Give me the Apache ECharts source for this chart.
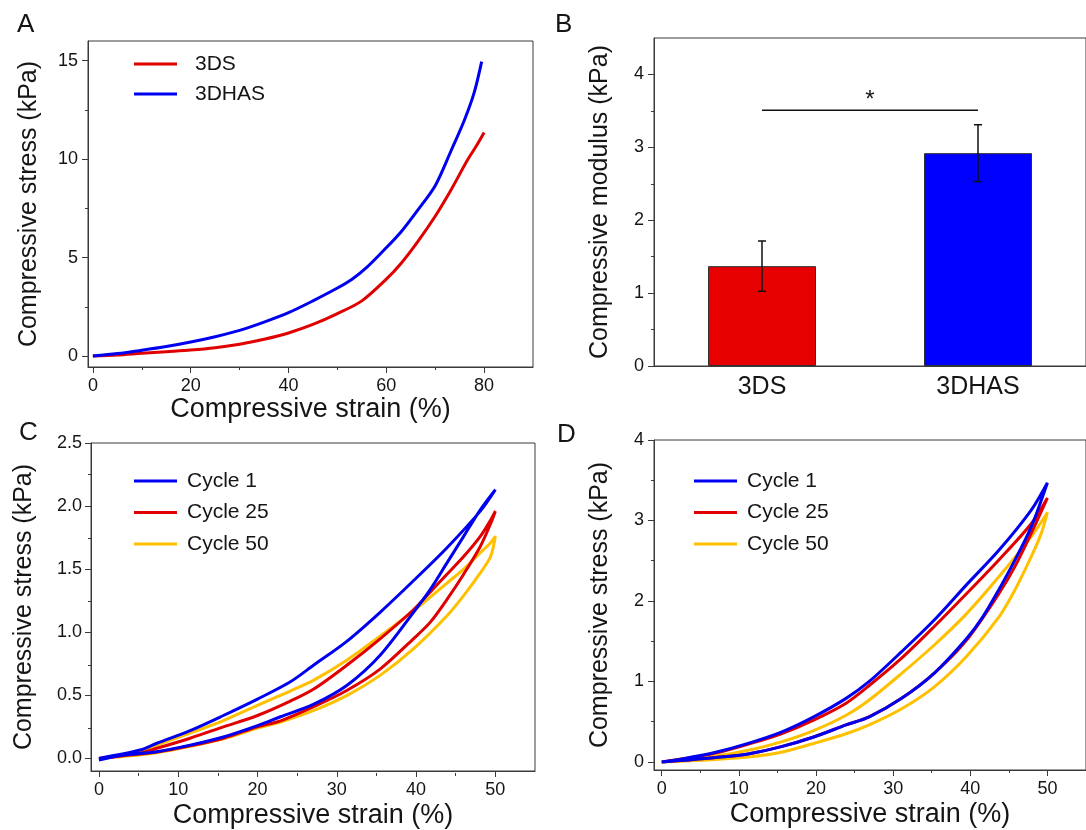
<!DOCTYPE html>
<html>
<head>
<meta charset="utf-8">
<script src="https://cdn.jsdelivr.net/npm/echarts@6/dist/echarts.min.js"></script>
<style>
html,body{margin:0;padding:0;background:#ffffff;}
#chart{width:1086px;height:830px;}
</style>
</head>
<body>
<div id="chart"></div>
<script>
// ---------- Panel A: stress-strain curves ----------
const aStrain3DS   = [0, 5, 10, 15, 20, 25, 30, 35, 40, 45, 50, 55, 60, 63, 66.4, 70, 73.2, 76.6, 78.5, 80];
const aStress3DS   = [0, 0.05, 0.14, 0.22, 0.3, 0.42, 0.6, 0.85, 1.17, 1.6, 2.15, 2.8, 3.9, 4.7, 5.8, 7.1, 8.42, 9.95, 10.7, 11.35];
const aStrain3DHAS = [0, 5, 10, 15, 20, 25, 30, 35, 40, 45, 50, 53, 56, 59.5, 63, 66.4, 70, 73.2, 76, 78, 79.5];
const aStress3DHAS = [0, 0.12, 0.29, 0.48, 0.71, 0.98, 1.3, 1.72, 2.2, 2.8, 3.45, 3.9, 4.5, 5.37, 6.3, 7.4, 8.65, 10.4, 12.0, 13.4, 14.95];
const aStrainTicks = [0, 20, 40, 60, 80];
const aStrainMinor = [10, 30, 50, 70];
const aStressTicks = [0, 5, 10, 15];
const aStressMinor = [2.5, 7.5, 12.5];

// ---------- Panel B: compressive modulus ----------
const bCategories = ['3DS', '3DHAS'];
const bModulus    = [1.37, 2.92];
const bModulusErr = [0.345, 0.39];
const bSigLevel   = 3.51;
const bSigMark    = '*';
const bTicks      = [0, 1, 2, 3, 4];
const bMinor      = [0.5, 1.5, 2.5, 3.5];

// ---------- Panel C: cyclic loops ----------
const cCycle1Strain  = [0, 5.2, 7.3, 11.5, 15.7, 20, 24.1, 27.1, 31.3, 35.5, 39.7, 43.9, 48.1, 50,
                        48.1, 46, 43.9, 41.8, 39.7, 35.5, 31.3, 27.1, 22.9, 20, 15.7, 11.5, 7.3, 3.1, 0];
const cCycle1Stress  = [0, 0.066, 0.12, 0.22, 0.34, 0.47, 0.605, 0.74, 0.93, 1.16, 1.41, 1.67, 1.96, 2.13,
                        1.97, 1.76, 1.55, 1.34, 1.16, 0.82, 0.58, 0.43, 0.33, 0.26, 0.17, 0.105, 0.053, 0.026, -0.013];
const cCycle25Strain = [0, 5, 7.3, 11.5, 15.7, 20, 24, 27.1, 31.3, 35.5, 39.7, 41.8, 43.9, 46, 48.1, 49.4, 50,
                        49.4, 48.1, 46, 43.9, 41.8, 39.7, 35.5, 31.3, 27.1, 23, 20, 15.7, 11.5, 7.3, 3, 0];
const cCycle25Stress = [0, 0.04, 0.08, 0.16, 0.25, 0.34, 0.45, 0.55, 0.74, 0.95, 1.18, 1.32, 1.46, 1.6, 1.76, 1.89, 1.96,
                        1.86, 1.68, 1.46, 1.26, 1.08, 0.95, 0.71, 0.54, 0.41, 0.3, 0.25, 0.16, 0.1, 0.05, 0.02, 0];
const cCycle50Strain = [0, 5, 7.3, 11.5, 15.7, 20, 24, 27.1, 31.3, 35.5, 39.7, 43.9, 46, 48.1, 49.4, 50,
                        49.4, 48.1, 46, 43.9, 39.7, 35.5, 31.3, 27.1, 23, 20, 15.7, 11.5, 7.3, 3, 0];
const cCycle50Stress = [0, 0.05, 0.105, 0.2, 0.3, 0.42, 0.53, 0.62, 0.78, 0.97, 1.17, 1.39, 1.5, 1.63, 1.71, 1.76,
                        1.6, 1.47, 1.29, 1.13, 0.87, 0.66, 0.5, 0.38, 0.29, 0.24, 0.155, 0.095, 0.045, 0.015, 0];
const cStrainTicks = [0, 10, 20, 30, 40, 50];
const cStrainMinor = [5, 15, 25, 35, 45];
const cStressTicks = [0, 0.5, 1.0, 1.5, 2.0, 2.5];
const cStressMinor = [0.25, 0.75, 1.25, 1.75, 2.25];

// ---------- Panel D: cyclic loops ----------
const dCycle1Strain  = [0, 2.8, 7, 11.2, 15.5, 19.7, 23.9, 26.9, 31.1, 35.3, 39.5, 43.7, 47.9, 50,
                        47.9, 45.8, 43.7, 41.6, 39.5, 35.3, 31.1, 26.9, 23.9, 19.7, 15.5, 11.2, 7, 2.8, 0];
const dCycle1Stress  = [0, 0.04, 0.12, 0.23, 0.37, 0.56, 0.79, 1.0, 1.37, 1.76, 2.2, 2.63, 3.13, 3.47,
                        2.92, 2.51, 2.14, 1.8, 1.53, 1.1, 0.79, 0.56, 0.46, 0.31, 0.19, 0.1, 0.054, 0.02, 0];
const dCycle25Strain = [0, 2.8, 7, 11.2, 15.5, 19.7, 23.9, 26.9, 31.1, 35.3, 39.5, 43.7, 47.9, 50,
                        47.9, 45.8, 43.7, 39.5, 35.3, 31.1, 26.9, 23.9, 19.7, 15.5, 11.2, 7, 2.8, 0];
const dCycle25Stress = [0, 0.04, 0.11, 0.22, 0.35, 0.52, 0.73, 0.95, 1.29, 1.68, 2.09, 2.51, 2.96, 3.28,
                        2.84, 2.43, 2.09, 1.51, 1.1, 0.79, 0.56, 0.46, 0.31, 0.19, 0.1, 0.054, 0.02, 0];
const dCycle50Strain = [0, 2.8, 7, 11.2, 15.5, 19.7, 23.9, 26.9, 31.1, 35.3, 39.5, 43.7, 47.9, 50,
                        49.2, 47.9, 45.8, 43.7, 39.5, 35.3, 31.1, 26.9, 23.9, 19.7, 15.5, 11.2, 7, 2.8, 0];
const dCycle50Stress = [0, 0.02, 0.07, 0.145, 0.25, 0.39, 0.58, 0.77, 1.1, 1.45, 1.84, 2.3, 2.8, 3.1,
                        2.84, 2.55, 2.14, 1.8, 1.31, 0.93, 0.66, 0.46, 0.35, 0.23, 0.12, 0.06, 0.03, 0.01, 0];
const dStrainTicks = [0, 10, 20, 30, 40, 50];
const dStrainMinor = [5, 15, 25, 35, 45];
const dStressTicks = [0, 1, 2, 3, 4];
const dStressMinor = [0.5, 1.5, 2.5, 3.5];

// ---------- Text ----------
const strainTitle = 'Compressive strain (%)';
const stressTitle = 'Compressive stress (kPa)';
const modulusTitle = 'Compressive modulus (kPa)';
const cycleNames = ['Cycle 1', 'Cycle 25', 'Cycle 50'];
const panelLetters = ['A', 'B', 'C', 'D'];

// ---------- Styles ----------
const FONT = 'Arial, "Liberation Sans", Helvetica, sans-serif';
const INK = '#151515';
const FRAME = '#3a3a3a';
const RED = '#E00000';
const BLUE = '#0000F0';
const YELLOW = '#FFC000';
const barColors = ['#E60000', '#0000FF'];

const zip = (xs, ys) => xs.map((x, i) => [x, ys[i]]);

function gridBox(left, top, width, height, show) {
  return { left, top, width, height, show, borderColor: FRAME, borderWidth: 1, backgroundColor: 'transparent' };
}
function valueAxis(gi, min, max, vals, fmt, margin, name, nameGap, isY) {
  return {
    type: 'value', gridIndex: gi, min, max,
    axisLine: { show: true, onZero: false, lineStyle: { color: FRAME, width: 1 } },
    axisTick: { show: true, inside: false, length: 6, customValues: vals, lineStyle: { color: FRAME, width: 1 } },
    axisLabel: { show: true, customValues: vals, formatter: fmt, fontSize: 18, color: INK, fontFamily: FONT, margin: margin },
    splitLine: { show: false },
    name: name, nameLocation: 'middle', nameGap: nameGap, nameRotate: isY ? 90 : 0,
    nameTextStyle: { fontSize: isY ? 25 : 27, color: INK, fontFamily: FONT }
  };
}
function minorAxis(gi, min, max, vals) {
  return {
    type: 'value', gridIndex: gi, min, max,
    axisLine: { show: false, onZero: false },
    axisLabel: { show: false }, splitLine: { show: false },
    axisTick: { show: true, inside: false, length: 3, customValues: vals, lineStyle: { color: FRAME, width: 1 } }
  };
}
const fmtInt = v => String(v);
const fmt1 = v => v.toFixed(1);

function lineSeries(name, xi, data, color) {
  return {
    type: 'line', name, xAxisIndex: xi, yAxisIndex: xi, data,
    symbol: 'none', smooth: 0.3, color,
    itemStyle: { color },
    lineStyle: { color, width: 3 }, emphasis: { disabled: true }, animation: false
  };
}

const G = {
  A: [88, 41, 445, 326],
  B: [654, 38, 436, 328],
  C: [91, 443, 444, 330],
  D: [654, 440, 442, 330]
};

const grids = [
  gridBox(...G.A, true), gridBox(...G.B, true), gridBox(...G.C, true), gridBox(...G.D, true),
  gridBox(...G.A, false), gridBox(...G.B, false), gridBox(...G.C, false), gridBox(...G.D, false)
];

const xAxes = [
  valueAxis(0, -1, 90, aStrainTicks, fmtInt, 10, strainTitle, 27, false),
  {
    type: 'category', gridIndex: 1, data: bCategories,
    axisLine: { show: true, lineStyle: { color: FRAME, width: 1 } },
    axisTick: { show: false },
    axisLabel: { fontSize: 25, color: INK, fontFamily: FONT, margin: 9 },
    splitLine: { show: false }
  },
  valueAxis(2, -1, 55, cStrainTicks, fmtInt, 10, strainTitle, 31, false),
  valueAxis(3, -1, 55, dStrainTicks, fmtInt, 10, strainTitle, 31, false),
  minorAxis(4, -1, 90, aStrainMinor),
  { type: 'value', gridIndex: 5, min: 0, max: 1, show: false },
  minorAxis(6, -1, 55, cStrainMinor),
  minorAxis(7, -1, 55, dStrainMinor)
];

const yAxes = [
  valueAxis(0, -0.56, 16, aStressTicks, fmtInt, 10, stressTitle, 46, true),
  valueAxis(1, 0, 4.5, bTicks, fmtInt, 10, modulusTitle, 41, true),
  valueAxis(2, -0.1, 2.5, cStressTicks, fmt1, 9, stressTitle, 54, true),
  valueAxis(3, -0.1, 4, dStressTicks, fmtInt, 10, stressTitle, 41, true),
  minorAxis(4, -0.56, 16, aStressMinor),
  minorAxis(5, 0, 4.5, bMinor),
  minorAxis(6, -0.1, 2.5, cStressMinor),
  minorAxis(7, -0.1, 4, dStressMinor)
];

const series = [
  lineSeries('3DS', 0, zip(aStrain3DS, aStress3DS), RED),
  lineSeries('3DHAS', 0, zip(aStrain3DHAS, aStress3DHAS), BLUE),
  {
    type: 'bar', xAxisIndex: 1, yAxisIndex: 1, data: bModulus, barWidth: '50%',
    itemStyle: { color: p => barColors[p.dataIndex], borderColor: '#303030', borderWidth: 1 },
    emphasis: { disabled: true }, animation: false
  },
  {
    type: 'custom', xAxisIndex: 1, yAxisIndex: 1, z: 10, animation: false,
    data: bCategories.map((c, i) => [i, bModulus[i] + bModulusErr[i], bModulus[i] - bModulusErr[i]]),
    renderItem: (params, api) => {
      const i = api.value(0);
      const hi = api.coord([i, api.value(1)]);
      const lo = api.coord([i, api.value(2)]);
      const w = 4;
      const st = { stroke: '#111', lineWidth: 1.5 };
      return {
        type: 'group', children: [
          { type: 'line', shape: { x1: hi[0], y1: hi[1], x2: lo[0], y2: lo[1] }, style: st },
          { type: 'line', shape: { x1: hi[0] - w, y1: hi[1], x2: hi[0] + w, y2: hi[1] }, style: st },
          { type: 'line', shape: { x1: lo[0] - w, y1: lo[1], x2: lo[0] + w, y2: lo[1] }, style: st }
        ]
      };
    }
  },
  {
    type: 'custom', xAxisIndex: 1, yAxisIndex: 1, z: 10, animation: false,
    data: [[0, bSigLevel]],
    renderItem: (params, api) => {
      const p0 = api.coord([0, api.value(1)]);
      const p1 = api.coord([1, api.value(1)]);
      return {
        type: 'group', children: [
          { type: 'line', shape: { x1: p0[0], y1: p0[1], x2: p1[0], y2: p1[1] }, style: { stroke: '#111', lineWidth: 1.5 } },
          { type: 'text', style: { text: bSigMark, x: (p0[0] + p1[0]) / 2, y: p0[1] - 10, align: 'center', verticalAlign: 'middle', fontSize: 24, fill: INK, fontFamily: FONT } }
        ]
      };
    }
  },
  lineSeries(cycleNames[2], 2, zip(cCycle50Strain, cCycle50Stress), YELLOW),
  lineSeries(cycleNames[1], 2, zip(cCycle25Strain, cCycle25Stress), RED),
  lineSeries(cycleNames[0], 2, zip(cCycle1Strain, cCycle1Stress), BLUE),
  lineSeries(cycleNames[2], 3, zip(dCycle50Strain, dCycle50Stress), YELLOW),
  lineSeries(cycleNames[1], 3, zip(dCycle25Strain, dCycle25Stress), RED),
  lineSeries(cycleNames[0], 3, zip(dCycle1Strain, dCycle1Stress), BLUE)
];

function legendBox(data, left, top, gap, pad) {
  return {
    data, orient: 'vertical', left, top, itemWidth: 43, itemHeight: 3, itemGap: gap,
    icon: 'rect', selectedMode: false,
    textStyle: { fontSize: 21, lineHeight: 22, color: INK, fontFamily: FONT, padding: [0, 0, 0, pad] }
  };
}

const letterPos = [[17, 12], [555, 12], [19, 420], [557, 422]];

const option = {
  backgroundColor: '#ffffff',
  animation: false,
  textStyle: { fontFamily: FONT },
  grid: grids,
  xAxis: xAxes,
  yAxis: yAxes,
  legend: [
    legendBox(['3DS', '3DHAS'], 129, 48, 8, 13),
    legendBox(cycleNames, 129, 465, 9.5, 5),
    legendBox(cycleNames, 689, 465, 9.5, 5)
  ],
  graphic: panelLetters.map((t, i) => ({
    type: 'text', left: letterPos[i][0], top: letterPos[i][1],
    style: { text: t, fontSize: 26, fill: INK, fontFamily: FONT }
  })),
  series
};

const chart = echarts.init(document.getElementById('chart'), null, { renderer: 'canvas' });
chart.setOption(option);
</script>
</body>
</html>
